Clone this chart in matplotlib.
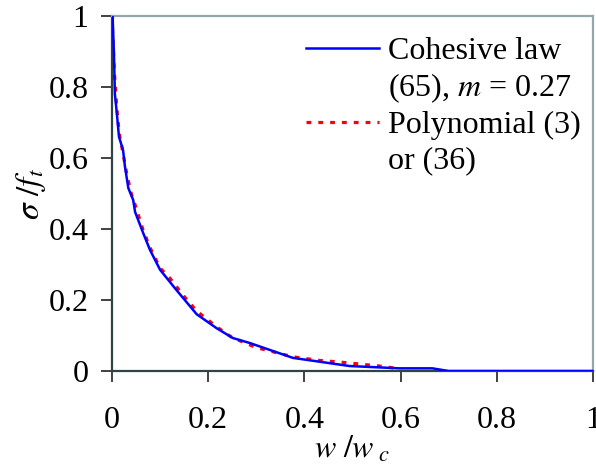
import matplotlib
matplotlib.use("Agg")
import matplotlib.pyplot as plt
from matplotlib.lines import Line2D

plt.rcParams['font.family'] = ['Liberation Serif', 'DejaVu Serif']
plt.rcParams['mathtext.fontset'] = 'stix'

# Cohesive law (65), m = 0.27
cohesive_w = [0.0, 0.0013, 0.004, 0.006, 0.010, 0.0145, 0.023, 0.027, 0.034, 0.044,
              0.048, 0.065, 0.079, 0.100, 0.134, 0.176, 0.217, 0.251, 0.286, 0.376,
              0.494, 0.598, 0.666, 0.700, 1.0]
cohesive_s = [1.0, 0.998, 0.896, 0.780, 0.727, 0.660, 0.622, 0.575, 0.515, 0.482,
              0.448, 0.388, 0.341, 0.285, 0.228, 0.160, 0.121, 0.093, 0.079, 0.037,
              0.014, 0.0075, 0.0075, 0.0, 0.0]

# Polynomial (3) or (36)
poly_w = [0.0, 0.002, 0.005, 0.010, 0.015, 0.022, 0.030, 0.040, 0.050, 0.065,
          0.080, 0.100, 0.120, 0.150, 0.176, 0.217, 0.250, 0.300, 0.376, 0.430,
          0.479, 0.556, 0.583, 0.595]
poly_s = [1.0, 0.93, 0.84, 0.74, 0.67, 0.62, 0.56, 0.50, 0.46, 0.395,
          0.345, 0.29, 0.262, 0.21, 0.169, 0.125, 0.094, 0.066, 0.040, 0.030,
          0.0245, 0.014, 0.009, 0.004]

xticks = [0, 0.2, 0.4, 0.6, 0.8, 1]
xticklabels = ['0', '0.2', '0.4', '0.6', '0.8', '1']
yticks = [0, 0.2, 0.4, 0.6, 0.8, 1]
yticklabels = ['0', '0.2', '0.4', '0.6', '0.8', '1']

legend_lines = ['Cohesive law', '(65), $m$ = 0.27', 'Polynomial (3)', 'or (36)']

FS = 23

fig = plt.figure(figsize=(5.96, 4.69), dpi=100)
ax = fig.add_axes([112/596, 1 - 371/469, (593 - 112)/596, (371 - 16)/469])

poly_line, = ax.plot(poly_w, poly_s, color='#ff0000', linestyle=(0, (1.5, 2.2)),
                     linewidth=2.3, zorder=2)
coh_line, = ax.plot(cohesive_w, cohesive_s, color='#0000ff', linewidth=1.8, zorder=3)

ax.set_xlim(0, 1)
ax.set_ylim(0, 1)
ax.set_xticks(xticks)
ax.set_xticklabels(xticklabels)
ax.set_yticks(yticks)
ax.set_yticklabels(yticklabels)
ax.tick_params(direction='out', length=8, width=1.3, color='#333333',
               labelsize=FS)
ax.tick_params(axis='x', pad=17)
ax.tick_params(axis='y', pad=9)

for side in ['left', 'bottom']:
    ax.spines[side].set_color('#2f4444')
    ax.spines[side].set_linewidth(1.6)
for side in ['top', 'right']:
    ax.spines[side].set_color('#93a8ab')
    ax.spines[side].set_linewidth(1.6)

ax.set_xlabel(r'$w\ /w_{\ c}$', fontsize=FS, labelpad=0)
ax.set_ylabel(r'$\sigma\ /f_t$', fontsize=FS + 1, labelpad=0)

blank = Line2D([], [], color='none')
handles = [coh_line, blank, poly_line, blank]
leg = ax.legend(handles, legend_lines, loc='upper left', frameon=False,
                fontsize=FS, handlelength=2.3, handletextpad=0.28,
                labelspacing=0.17, borderpad=0, borderaxespad=0,
                bbox_to_anchor=((306 - 112) / 481, (371 - 37) / 355),
                bbox_transform=ax.transAxes)

fig.savefig('out.png', dpi=100)
